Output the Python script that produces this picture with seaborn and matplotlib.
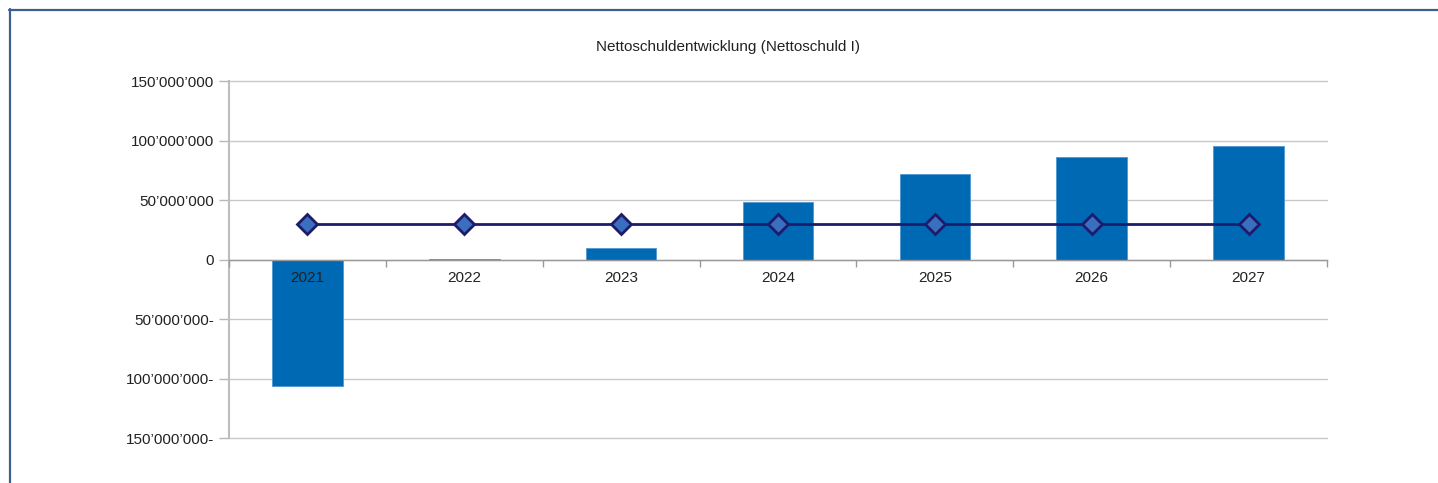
import matplotlib
matplotlib.use("Agg")
import matplotlib.pyplot as plt
import seaborn as sns
import pandas as pd
import numpy as np
from matplotlib.lines import Line2D
from matplotlib.ticker import FixedLocator, FuncFormatter

years = ["2021", "2022", "2023", "2024", "2025", "2026", "2027"]
net_debt = [-106_000_000, 800_000, 10_000_000, 48_000_000, 71_500_000, 86_500_000, 95_000_000]
limit_line = [29_500_000] * 7
y_ticks = [-150_000_000, -100_000_000, -50_000_000, 0, 50_000_000, 100_000_000, 150_000_000]
title = "Nettoschuldentwicklung (Nettoschuld I)"

sns.set_style("white")
plt.rcParams["font.family"] = ["Liberation Sans", "DejaVu Sans"]

df = pd.DataFrame({"Jahr": years, "Nettoschuld": net_debt, "Linie": limit_line})

fig = plt.figure(figsize=(14.38, 4.83), dpi=100)
ax = fig.add_axes([229/1438, 1 - 438/483, (1327-229)/1438, (438-81)/483])

sns.barplot(data=df, x="Jahr", y="Nettoschuld", color="#0069b4", width=0.45,
            edgecolor="#4f97d2", linewidth=0.6, saturation=1, ax=ax, zorder=2)
sns.pointplot(data=df, x="Jahr", y="Linie", color="#1e1b6b", markers="D",
              linestyles="-", ax=ax, errorbar=None, zorder=4)
for ln in ax.lines:
    ln.set_linewidth(2.0)
    ln.set_markersize(10)
    ln.set_markerfacecolor("#3a6fbf")
    ln.set_markeredgecolor("#1e1b6b")
    ln.set_markeredgewidth(2.0)
    ln.set_zorder(6)

ax.set_xlim(-0.5, 6.5)
ax.set_ylim(-150_000_000, 150_000_000)
ax.set_xlabel("")
ax.set_ylabel("")

def fmt(v, pos=None):
    s = f"{abs(int(v)):,}".replace(",", "\u2019")
    return s + "-" if v < 0 else s

ax.yaxis.set_major_locator(FixedLocator(y_ticks))
ax.yaxis.set_major_formatter(FuncFormatter(fmt))
ax.tick_params(axis="y", which="major", left=True, length=7, width=1, color="#b8b8b8",
               labelsize=11, labelcolor="#222222", pad=4)
ax.grid(axis="y", color="#c8c8c8", linewidth=1, zorder=0)
ax.set_axisbelow(True)
for gl in ax.yaxis.get_gridlines():
    gl.set_clip_on(False)

# x axis at zero, ticks at category boundaries, labels at centers
ax.spines["bottom"].set_position(("data", 0))
ax.spines["bottom"].set_color("#999999")
ax.spines["bottom"].set_linewidth(1)
ax.spines["left"].set_color("#bdbdbd")
ax.spines["left"].set_linewidth(1.5)
ax.spines["top"].set_visible(False)
ax.spines["right"].set_visible(False)
ax.xaxis.set_major_locator(FixedLocator(np.arange(-0.5, 7.0, 1.0)))
ax.xaxis.set_minor_locator(FixedLocator(np.arange(0, 7)))
ax.set_xticklabels([], minor=False)
ax.set_xticklabels(years, minor=True)
ax.tick_params(axis="x", which="major", bottom=True, length=5, width=1, color="#999999")
ax.tick_params(axis="x", which="minor", bottom=True, length=0, labelsize=11,
               labelcolor="#222222", pad=8)
ax.xaxis.set_zorder(5)

fig.text(0.506, 1 - 47/483, title, ha="center", va="center", fontsize=11, color="#222222")

# outer frame lines (top & left)
fig.add_artist(Line2D([9/1438, 1.0], [1 - 9.5/483, 1 - 9.5/483], color="#3c5f8f",
                      linewidth=1.6, transform=fig.transFigure))
fig.add_artist(Line2D([9.5/1438, 9.5/1438], [0, 1 - 9/483], color="#3c5f8f",
                      linewidth=1.6, transform=fig.transFigure))

fig.savefig("out.png", dpi=100)
